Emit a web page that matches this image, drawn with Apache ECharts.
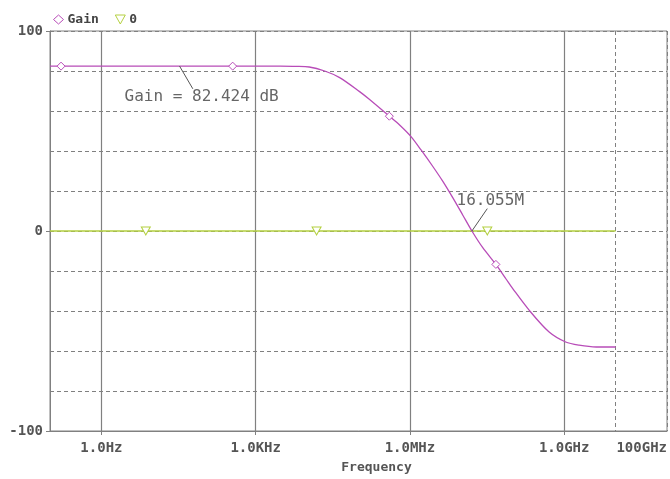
<!DOCTYPE html>
<html>
<head>
<meta charset="utf-8">
<script src="https://cdn.jsdelivr.net/npm/echarts@6/dist/echarts.min.js"></script>
<style>
  html, body { margin: 0; padding: 0; background: #fff; }
  #chart { width: 670px; height: 479px; }
</style>
</head>
<body>
<div id="chart"></div>
<script>
// frequency (Hz) and gain (dB)
const gainFreqs = [0.1, 0.164, 1, 10, 100, 357, 1000, 3000, 6000, 1.1e4, 2.2e4, 4.3e4, 1.05e5, 1.6e5, 3.98e5, 6.3e5,
  1.05e6, 1.66e6, 2.75e6, 4.37e6, 6.76e6, 1.07e7, 1.6055e7, 2.57e7, 4.7e7, 7.4e7, 1e8, 2.1e8, 5.1e8, 1.07e9, 1.95e9, 4.2e9, 1e10]
const gainValues = [82.424, 82.424, 82.424, 82.424, 82.424, 82.424, 82.424, 82.4, 82.3, 82.0, 80.0, 76.7, 69.7, 66.0, 57.4, 53.0,
  47.2, 40.4, 32.5, 24.8, 16.8, 7.9, 0, -8.1, -16.7, -24.0, -28.8, -39.7, -50.5, -55.5, -57.1, -58.0, -58.0]
const gainMarkerFreqs = [0.164, 357, 3.98e5, 4.7e7]

const zeroFreqs = [0.1, 7.3, 1.53e4, 3.2e7, 1e10]
const zeroValues = [0, 0, 0, 0, 0]
const zeroMarkerFreqs = [7.3, 1.53e4, 3.2e7]

const majorFreqs = [1, 1e3, 1e6, 1e9]
const labelFreqs = [1, 1e3, 1e6, 1e9, 1e11]
const tickLabels = ['1.0Hz', '1.0KHz', '1.0MHz', '1.0GHz', '100GHz']

const PURPLE = '#b84cb8'
const GREEN = '#b4d040'
const GRID = '#808080'
const TRI_DOWN = 'path://M0,0L10,0L5,9Z'
const monoBold = { fontFamily: 'DejaVu Sans Mono', fontWeight: 'bold', fontSize: 13, color: '#555' }

const chart = echarts.init(document.getElementById('chart'))

const gainData = gainFreqs.map((f, i) => {
  const item = { value: [f, gainValues[i]] }
  if (gainMarkerFreqs.includes(f)) item.symbol = 'diamond'
  return item
})
const zeroData = zeroFreqs.map((f, i) => {
  const item = { value: [f, zeroValues[i]] }
  if (zeroMarkerFreqs.includes(f)) item.symbol = TRI_DOWN
  return item
})

const labelFor = (v) => {
  const i = labelFreqs.findIndex(f => Math.abs(Math.log10(f) - Math.log10(v)) < 1e-6)
  return i >= 0 ? tickLabels[i] : ''
}

const option = {
  animation: false,
  grid: { left: 50, right: 2, top: 31, bottom: 47, show: true, borderColor: GRID, borderWidth: 1 },
  legend: {
    left: 48, top: 8,
    itemWidth: 10, itemHeight: 9, itemGap: 16,
    textStyle: { ...monoBold, color: '#444', padding: [0, 0, 0, -1] },
    data: [
      { name: 'Gain', icon: 'diamond', itemStyle: { color: '#fff', borderColor: PURPLE, borderWidth: 1 } },
      { name: '0', icon: TRI_DOWN, itemStyle: { color: '#fff', borderColor: GREEN, borderWidth: 1 } }
    ]
  },
  xAxis: [
    {
      type: 'log', logBase: 10, min: 0.1, max: 1e11,
      axisLine: { show: true, onZero: false, lineStyle: { color: GRID } },
      axisTick: { show: false },
      axisLabel: { show: false },
      splitLine: { show: true, lineStyle: { color: GRID, type: [4, 3] } },
      minorTick: { show: false }, minorSplitLine: { show: false }
    },
    {
      type: 'log', logBase: 10, min: 0.1, max: 1e11, position: 'bottom',
      name: 'Frequency', nameLocation: 'middle', nameGap: 30,
      nameTextStyle: { ...monoBold, padding: [0, 0, 0, 36] },
      axisLine: { show: false, onZero: false },
      axisTick: { show: true, length: 4, customValues: majorFreqs, lineStyle: { color: GRID } },
      axisLabel: { ...monoBold, fontSize: 14, margin: 10, customValues: labelFreqs, formatter: labelFor, alignMaxLabel: 'right' },
      splitLine: { show: true, lineStyle: { color: GRID, width: 1.2 } }
    }
  ],
  yAxis: [
    {
      type: 'value', min: -100, max: 100, interval: 20,
      axisLine: { show: true, onZero: false, lineStyle: { color: GRID } },
      axisTick: { show: false },
      axisLabel: { ...monoBold, fontSize: 14, margin: 7, formatter: v => (v % 100 === 0 ? String(v) : '') },
      splitLine: { show: true, lineStyle: { color: GRID, type: [4, 3] } }
    },
    {
      type: 'value', min: -100, max: 100, interval: 100, position: 'left',
      axisLine: { show: false, onZero: false },
      axisTick: { show: true, length: 4, lineStyle: { color: GRID } },
      axisLabel: { show: false },
      splitLine: { show: false }
    }
  ],
  series: [
    {
      name: 'Gain', type: 'line', data: gainData,
      symbol: 'none', symbolSize: 8, showSymbol: true,
      smooth: 0.3,
      itemStyle: { color: '#fff', borderColor: PURPLE, borderWidth: 1 },
      lineStyle: { color: PURPLE, width: 1.3 },
      z: 3,
      markLine: {
        silent: true, symbol: 'none', label: { show: false },
        lineStyle: { color: '#555', type: 'solid', width: 1 },
        data: [
          [{ coord: [33, 82.5] }, { coord: [60, 71.1] }],
          [{ coord: [1.6055e7, 0] }, { coord: [3.2e7, 11.2] }]
        ]
      },
      markPoint: {
        silent: true, symbol: 'circle', symbolSize: 0,
        label: { show: true, position: 'inside', fontFamily: 'DejaVu Sans Mono', fontSize: 16, color: '#666', formatter: p => p.name },
        data: [
          { name: 'Gain = 82.424 dB', coord: [89, 67.1] },
          { name: '16.055M', coord: [3.66e7, 15.2] }
        ]
      }
    },
    {
      name: '0', type: 'line', data: zeroData,
      symbol: 'none', symbolSize: [9, 8], showSymbol: true,
      itemStyle: { color: '#fff', borderColor: GREEN, borderWidth: 1 },
      lineStyle: { color: GREEN, width: 1.5 },
      z: 2
    }
  ]
}

chart.setOption(option)
window.addEventListener('resize', () => chart.resize())
</script>
</body>
</html>
